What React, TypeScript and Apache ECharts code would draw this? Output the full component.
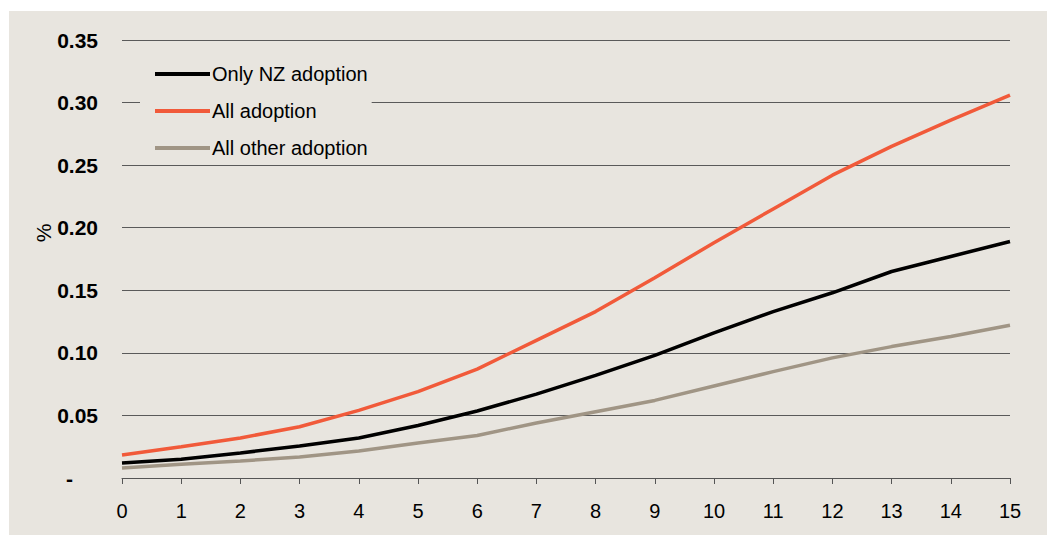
import React, { useEffect, useRef } from "react";
import * as echarts from "echarts";

const years = ["0","1","2","3","4","5","6","7","8","9","10","11","12","13","14","15"];
const onlyNZ = [0.012,0.015,0.020,0.0256,0.032,0.042,0.0535,0.067,0.082,0.098,0.116,0.133,0.148,0.165,0.177,0.189];
const allAdoption = [0.0184,0.025,0.032,0.041,0.054,0.069,0.087,0.110,0.133,0.160,0.188,0.215,0.242,0.265,0.286,0.306];
const allOther = [0.008,0.011,0.0136,0.0168,0.0216,0.028,0.034,0.044,0.053,0.062,0.0735,0.085,0.096,0.105,0.113,0.122];
const seriesNames = ["Only NZ adoption", "All adoption", "All other adoption"];
const yAxisTitle = "%";
const colors = ["#000000", "#f15a3a", "#a09585"];
const BG = "#e8e5df";
const FONT = "'Liberation Sans', Arial, sans-serif";

export default function App() {
  const ref = useRef<HTMLDivElement>(null);
  useEffect(() => {
    if (!ref.current) return;
    const chart = echarts.init(ref.current, undefined, { renderer: "svg" });
    const data = [onlyNZ, allAdoption, allOther];
    chart.setOption({
      animation: false,
      backgroundColor: BG,
      textStyle: { fontFamily: FONT },
      grid: { left: 113, right: 45, top: 29, bottom: 57 },
      graphic: [
        {
          type: "text",
          x: 34,
          y: 222,
          rotation: Math.PI / 2,
          style: {
            text: yAxisTitle,
            fontFamily: FONT,
            fontSize: 21,
            fill: "#000",
            align: "center",
            verticalAlign: "middle",
          },
        },
      ],
      legend: {
        data: seriesNames,
        orient: "vertical",
        left: 131,
        top: 44,
        icon: "rect",
        itemWidth: 55,
        itemHeight: 4,
        itemGap: 17,
        padding: [9, 4, 4, 15],
        backgroundColor: BG,
        textStyle: { fontFamily: FONT, fontSize: 20, color: "#000", lineHeight: 20, padding: [0, 0, 0, -3] },
      },
      xAxis: {
        type: "category",
        data: years,
        boundaryGap: false,
        axisLine: { lineStyle: { color: "#555", width: 1 } },
        axisTick: { show: true, length: 6, lineStyle: { color: "#555" } },
        axisLabel: { fontFamily: FONT, fontSize: 20, color: "#000", margin: 23 },
        splitLine: { show: false },
      },
      yAxis: {
        type: "value",
        min: 0,
        max: 0.35,
        interval: 0.05,
        axisLine: { show: false },
        axisTick: { show: false },
        axisLabel: {
          fontFamily: FONT,
          fontSize: 21,
          fontWeight: "bold",
          color: "#000",
          margin: 24,
          formatter: (v: number) => (v === 0 ? "{dash|-}" : v.toFixed(2)),
          rich: { dash: { fontFamily: FONT, fontSize: 21, fontWeight: "bold", color: "#000", padding: [0, 25, 0, 0] } },
        },
        splitLine: { lineStyle: { color: "#5a5a5a", width: 1 } },
      },
      series: seriesNames.map((name, i) => ({
        name,
        type: "line",
        data: data[i],
        showSymbol: false,
        symbol: "none",
        lineStyle: { color: colors[i], width: 3.5 },
        itemStyle: { color: colors[i] },
        z: 3 - i,
      })),
    });
    return () => chart.dispose();
  }, []);
  return <div ref={ref} style={{ width: 1046, height: 524, marginTop: 3, marginLeft: 1 }} />;
}
